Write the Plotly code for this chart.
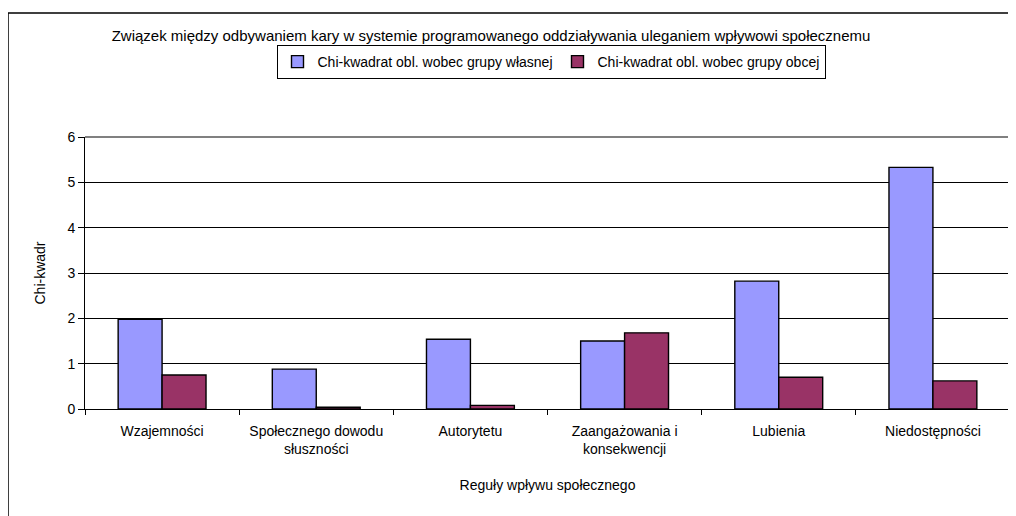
import plotly.graph_objects as go

categories = ["Wzajemności", "Społecznego dowodu<br>słuszności", "Autorytetu",
              "Zaangażowania i<br>konsekwencji", "Lubienia", "Niedostępności"]
own_group = [1.98, 0.88, 1.54, 1.50, 2.82, 5.33]
other_group = [0.75, 0.04, 0.08, 1.68, 0.70, 0.62]
series_names = ["Chi-kwadrat obl. wobec grupy własnej", "Chi-kwadrat obl. wobec grupy obcej"]
y_ticks = [0, 1, 2, 3, 4, 5, 6]

FONT = "Liberation Sans, Arial, sans-serif"
FS = 14

# page has an 8px body margin; figure occupies screen pixels 8..1016 / 8..516
OFF = 8
W, H = 1016 - OFF, 516 - OFF
L, R, T, B = 85 - OFF, 6, 137 - OFF, 107
pw, ph = W - L - R, H - T - B


def px_x(p):
    return (p - OFF - L) / pw


def px_y(p):
    return (H - B - (p - OFF)) / ph


fig = go.Figure()
fig.add_trace(go.Bar(x=categories, y=own_group, name=series_names[0],
                     marker=dict(color="#9999FF", line=dict(color="black", width=1.4))))
fig.add_trace(go.Bar(x=categories, y=other_group, name=series_names[1],
                     marker=dict(color="#993366", line=dict(color="black", width=1.4))))

fig.update_layout(
    width=W, height=H,
    margin=dict(l=L, r=R, t=T, b=B, pad=0),
    paper_bgcolor="white", plot_bgcolor="white",
    font=dict(family=FONT, size=FS, color="black"),
    barmode="group", bargap=0.43, bargroupgap=0,
    title=dict(text="Związek między odbywaniem kary w systemie programowanego oddziaływania uleganiem wpływowi społecznemu",
               x=px_x(491), xref="paper", xanchor="center", y=1 - (36 - OFF) / H, yanchor="middle",
               font=dict(family=FONT, size=15, color="black")),
    legend=dict(orientation="h", x=px_x(551), xanchor="center", y=px_y(45), yanchor="top",
                bordercolor="black", borderwidth=1, bgcolor="white",
                font=dict(family=FONT, size=FS, color="black")),
    xaxis=dict(showgrid=False, showline=True, linecolor="black", linewidth=1,
               ticks="outside", tickson="boundaries", ticklen=5, tickcolor="black",
               ticklabelstandoff=9,
               tickfont=dict(family=FONT, size=FS, color="black"),
               title=dict(text="Reguły wpływu społecznego", standoff=24,
                          font=dict(family=FONT, size=FS, color="black"))),
    yaxis=dict(range=[0, 6], tickvals=y_ticks, showgrid=True, gridcolor="black", gridwidth=1,
               showline=True, linecolor="black", linewidth=1, zeroline=False,
               ticks="outside", ticklen=6, tickcolor="black",
               tickfont=dict(family=FONT, size=FS, color="black"),
               title=dict(text="Chi-kwadr", standoff=18,
                          font=dict(family=FONT, size=FS, color="black"))),
    shapes=[
        dict(type="line", xref="paper", yref="paper", x0=0, x1=1, y0=1, y1=1,
             line=dict(color="#808080", width=2), layer="above"),
        dict(type="line", xref="paper", yref="paper", x0=1, x1=1, y0=0, y1=1,
             line=dict(color="#808080", width=2), layer="above"),
        dict(type="rect", xref="paper", yref="paper",
             x0=px_x(8), x1=px_x(1030), y0=px_y(540), y1=px_y(13),
             line=dict(color="black", width=1.5), layer="below"),
    ],
)

fig.write_html("out.html")
